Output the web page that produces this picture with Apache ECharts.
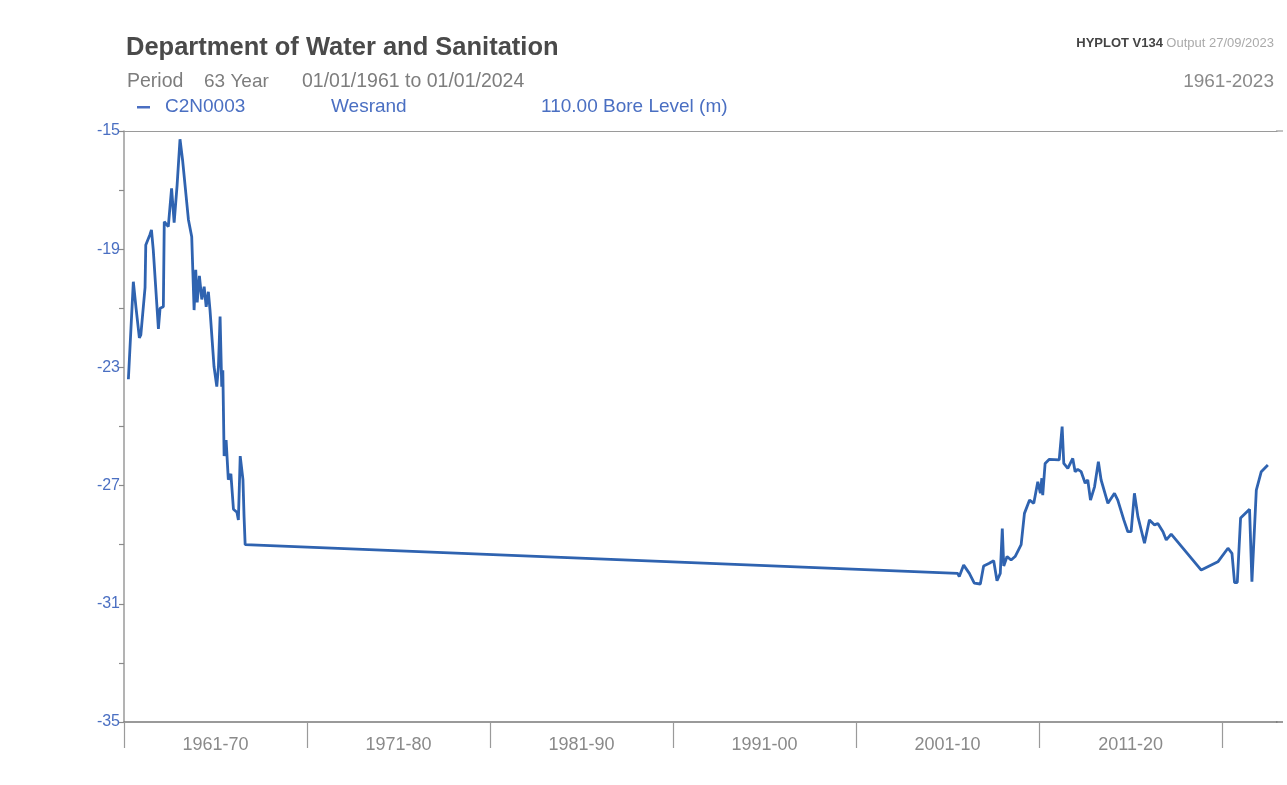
<!DOCTYPE html>
<html>
<head>
<meta charset="utf-8">
<script src="https://cdn.jsdelivr.net/npm/echarts@6/dist/echarts.min.js"></script>
<style>
html,body{margin:0;padding:0;background:#fff;}
#chart{width:1287px;height:785px;}
</style>
</head>
<body>
<div id="chart"></div>
<script>
// ---- data (decimal year, bore level in m) ----
const years = [
  1961.24,1961.51,1961.66,1961.84,1961.92,1962.15,1962.19,1962.42,1962.50,1962.60,
  1962.88,1962.97,1963.15,1963.20,1963.42,1963.60,1963.74,1963.90,1964.06,1964.20,
  1964.52,1964.70,1964.83,1964.92,1965.00,1965.12,1965.25,1965.38,1965.49,1965.61,
  1965.70,1965.92,1966.07,1966.16,1966.25,1966.34,1966.40,1966.47,1966.58,1966.70,
  1966.84,1966.98,1967.17,1967.25,1967.35,1967.50,1967.56,1967.62,
  2006.55,2006.64,2006.88,2007.19,2007.46,2007.79,2007.97,2008.28,2008.52,2008.70,
  2008.88,2008.99,2009.07,2009.25,2009.47,2009.69,2009.87,2010.02,2010.20,2010.48,
  2010.71,2010.93,2011.07,2011.15,2011.20,2011.33,2011.56,2012.10,2012.26,2012.35,
  2012.57,2012.84,2012.97,2013.11,2013.30,2013.52,2013.66,2013.81,2014.03,2014.24,
  2014.39,2014.76,2015.12,2015.30,2015.63,2015.85,2016.03,2016.21,2016.40,2016.76,
  2017.03,2017.31,2017.49,2017.77,2017.95,2018.22,2019.86,2020.77,2021.32,2021.54,
  2021.68,2021.83,2022.01,2022.50,2022.63,2022.87,2023.14,2023.50
];
const levels = [
  -23.40,-20.10,-21.00,-22.00,-21.90,-20.30,-18.86,-18.50,-18.35,-19.03,
  -21.70,-21.00,-20.95,-18.07,-18.24,-16.94,-18.10,-16.85,-15.28,-15.98,
  -18.00,-18.58,-21.06,-19.70,-20.80,-19.90,-20.70,-20.27,-20.95,-20.44,
  -21.06,-22.98,-23.65,-22.98,-21.28,-23.65,-23.10,-26.00,-25.46,-26.80,
  -26.60,-27.80,-27.90,-28.16,-26.00,-26.80,-28.05,-29.00,
  -29.97,-30.08,-29.69,-29.97,-30.30,-30.33,-29.72,-29.63,-29.54,-30.22,
  -29.97,-28.45,-29.72,-29.40,-29.52,-29.40,-29.18,-29.00,-27.94,-27.49,
  -27.60,-26.87,-27.26,-26.75,-27.32,-26.25,-26.11,-26.13,-25.00,-26.25,
  -26.42,-26.08,-26.53,-26.45,-26.53,-26.92,-26.81,-27.49,-27.04,-26.19,
  -26.81,-27.60,-27.26,-27.49,-28.16,-28.56,-28.56,-27.26,-28.05,-28.95,
  -28.16,-28.33,-28.28,-28.56,-28.84,-28.64,-29.86,-29.58,-29.12,-29.29,
  -30.28,-30.28,-28.10,-27.80,-30.25,-27.15,-26.53,-26.30
];
const decadeLabels = ['1961-70','1971-80','1981-90','1991-00','2001-10','2011-20'];
const decadeStarts = [1961,1971,1981,1991,2001,2011,2021];
const yTicks = [-35,-33,-31,-29,-27,-25,-23,-21,-19,-17,-15];
const yLabels = [-35,-31,-27,-23,-19,-15];

const seriesData = years.map((y,i)=>[y, levels[i]]);
const labelCenters = decadeLabels.map((_,i)=>decadeStarts[i]+5);

const FONT = '"Liberation Sans", Arial, sans-serif';
const BLUE = '#4a6fc2';

const chart = echarts.init(document.getElementById('chart'), null, {renderer:'canvas'});
chart.setOption({
  backgroundColor:'#ffffff',
  animation:false,
  grid:{left:124, top:131, right:10, bottom:63, containLabel:false},
  xAxis:[{
    type:'value', min:1961, max:2024,
    axisLine:{show:true, lineStyle:{color:'#7a7a7a', width:1.5}},
    axisTick:{show:true, customValues:decadeStarts, length:26, inside:false,
      lineStyle:{color:'#9a9a9a', width:1.2}},
    axisLabel:{show:true, customValues:labelCenters, margin:14,
      color:'#8a8a8a', fontSize:18, fontFamily:FONT,
      formatter:(v)=>{const i=labelCenters.indexOf(v); return i>=0?decadeLabels[i]:'';}},
    splitLine:{show:false}
  },{
    type:'value', min:1961, max:2024, position:'top',
    axisLine:{show:true, lineStyle:{color:'#9a9a9a', width:1.2}},
    axisTick:{show:false}, axisLabel:{show:false}, splitLine:{show:false}
  }],
  yAxis:{
    type:'value', min:-35, max:-15,
    axisLine:{show:true, lineStyle:{color:'#9a9a9a', width:1.5}},
    axisTick:{show:true, customValues:yTicks, length:5, lineStyle:{color:'#8a8a8a', width:1.2}},
    axisLabel:{show:true, customValues:yLabels, margin:4, color:BLUE, fontSize:16, fontFamily:FONT,
      formatter:(v)=>String(v)},
    splitLine:{show:false}
  },
  series:[{
    type:'line', data:seriesData, showSymbol:false, symbol:'none',
    lineStyle:{color:'#2f63b0', width:2.8}, xAxisIndex:0
  }],
  graphic:[
    {type:'line', shape:{x1:1276, y1:131, x2:1283, y2:131}, style:{stroke:'#9a9a9a', lineWidth:1.2}},
    {type:'line', shape:{x1:1276, y1:722, x2:1283, y2:722}, style:{stroke:'#7a7a7a', lineWidth:1.5}},
    {type:'text', left:126, top:35, style:{text:'Department of Water and Sanitation', fill:'#4a4a4a',
      font:'bold 25.5px '+FONT}},
    {type:'text', left:127, top:72, style:{text:'Period', fill:'#7d7d7d', font:'19.5px '+FONT}},
    {type:'text', left:204, top:72, style:{text:'63 Year', fill:'#7d7d7d', font:'19px '+FONT}},
    {type:'text', left:302, top:72, style:{text:'01/01/1961 to 01/01/2024', fill:'#7d7d7d', font:'19.5px '+FONT}},
    {type:'rect', shape:{x:137, y:106, width:13, height:2.5}, style:{fill:BLUE}},
    {type:'text', left:165, top:97, style:{text:'C2N0003', fill:BLUE, font:'19px '+FONT}},
    {type:'text', left:331, top:97, style:{text:'Wesrand', fill:BLUE, font:'19px '+FONT}},
    {type:'text', left:541, top:97, style:{text:'110.00 Bore Level (m)', fill:BLUE, font:'19px '+FONT}},
    {type:'text', right:13, top:37, style:{text:'{a|HYPLOT V134} {b|Output 27/09/2023}',
      rich:{a:{fill:'#444', font:'bold 13px '+FONT}, b:{fill:'#aaa', font:'13px '+FONT}}}},
    {type:'text', right:13, top:72, style:{text:'1961-2023', fill:'#8a8a8a', font:'19px '+FONT}}
  ]
});
</script>
</body>
</html>
